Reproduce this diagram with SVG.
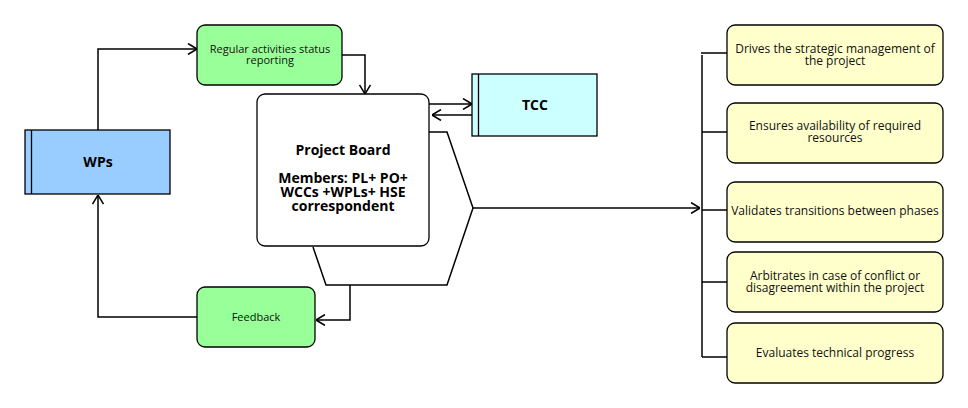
<svg xmlns="http://www.w3.org/2000/svg" width="968" height="408" viewBox="0 0 968 408">
<defs>
<style>
.box{stroke:#000;stroke-width:1.3}
.green{fill:#99ff99}
.yellow{fill:#ffffcc}
.conn{fill:none;stroke:#000;stroke-width:1.5}
.t{font-family:"Open Sans","Noto Sans",sans-serif;font-size:11px;fill:#111;text-anchor:middle}
.r{font-family:"Open Sans","Noto Sans",sans-serif;font-size:12px;fill:#111;text-anchor:middle}
.b{font-family:"Open Sans","Noto Sans",sans-serif;font-size:14px;font-weight:bold;fill:#000;text-anchor:middle}
</style>
<marker id="arr" viewBox="0 0 10 12" refX="10" refY="6" markerWidth="10" markerHeight="12" markerUnits="userSpaceOnUse" orient="auto">
<path d="M1,0.5 L10,6 L1,11.5" fill="none" stroke="#000" stroke-width="1.5"/>
</marker>
</defs>
<rect width="968" height="408" fill="#fff"/>
<g id="connectors">
<path class="conn" d="M98,130 V49 H197" marker-end="url(#arr)"/>
<path class="conn" d="M342,55 H365 V94" marker-end="url(#arr)"/>
<path class="conn" d="M429,104 H472" marker-end="url(#arr)"/>
<path class="conn" d="M472,115 H432" marker-end="url(#arr)"/>
<path class="conn" d="M429,132 H447 L473,208 L447,285 H326 L313,247" stroke-width="1.3"/>
<path class="conn" d="M473,208 H700" marker-end="url(#arr)"/>
<path class="conn" d="M350,285 V320 H316" marker-end="url(#arr)"/>
<path class="conn" d="M197,317 H98 V195" marker-end="url(#arr)"/>
<path class="conn" d="M702,55 V357"/>
<path class="conn" d="M701,53 H727 M702,132 H727 M702,210 H727 M702,282 H727 M702,357 H727"/>
</g>
<g id="wps">
<rect class="box" x="25" y="130" width="145" height="64" fill="#99ccff"/>
<line x1="31.5" y1="130" x2="31.5" y2="194" stroke="#000" stroke-width="1.3"/>
<text class="b" x="98" y="167">WPs</text>
</g>
<g id="status">
<rect class="box green" x="197" y="25" width="145" height="60" rx="8"/>
<text class="t" x="270" y="53">Regular activities status</text>
<text class="t" x="270" y="64">reporting</text>
</g>
<g id="board">
<rect class="box" x="257" y="94" width="172" height="152" rx="8" fill="#fff"/>
<text class="b" x="343" y="155">Project Board</text>
<text class="b" x="343" y="183">Members: PL+ PO+</text>
<text class="b" x="343" y="197">WCCs +WPLs+ HSE</text>
<text class="b" x="343" y="211">correspondent</text>
</g>
<g id="tcc">
<rect class="box" x="472" y="74" width="125" height="62" fill="#ccffff"/>
<line x1="478.5" y1="74" x2="478.5" y2="136" stroke="#000" stroke-width="1.3"/>
<text class="b" x="535" y="110">TCC</text>
</g>
<g id="feedback">
<rect class="box green" x="197" y="287" width="118" height="60" rx="8"/>
<text class="t" x="256" y="321">Feedback</text>
</g>
<g id="r1">
<rect class="box yellow" x="727" y="25" width="216" height="60" rx="8"/>
<text class="r" x="835" y="53">Drives the strategic management of</text>
<text class="r" x="835" y="65">the project</text>
</g>
<g id="r2">
<rect class="box yellow" x="727" y="103" width="216" height="60" rx="8"/>
<text class="r" x="835" y="130">Ensures availability of required</text>
<text class="r" x="835" y="142">resources</text>
</g>
<g id="r3">
<rect class="box yellow" x="727" y="182" width="216" height="60" rx="8"/>
<text class="r" x="835" y="215">Validates transitions between phases</text>
</g>
<g id="r4">
<rect class="box yellow" x="727" y="252" width="216" height="60" rx="8"/>
<text class="r" x="835" y="280">Arbitrates in case of conflict or</text>
<text class="r" x="835" y="292">disagreement within the project</text>
</g>
<g id="r5">
<rect class="box yellow" x="727" y="323" width="216" height="60" rx="8"/>
<text class="r" x="835" y="357">Evaluates technical progress</text>
</g>
</svg>
